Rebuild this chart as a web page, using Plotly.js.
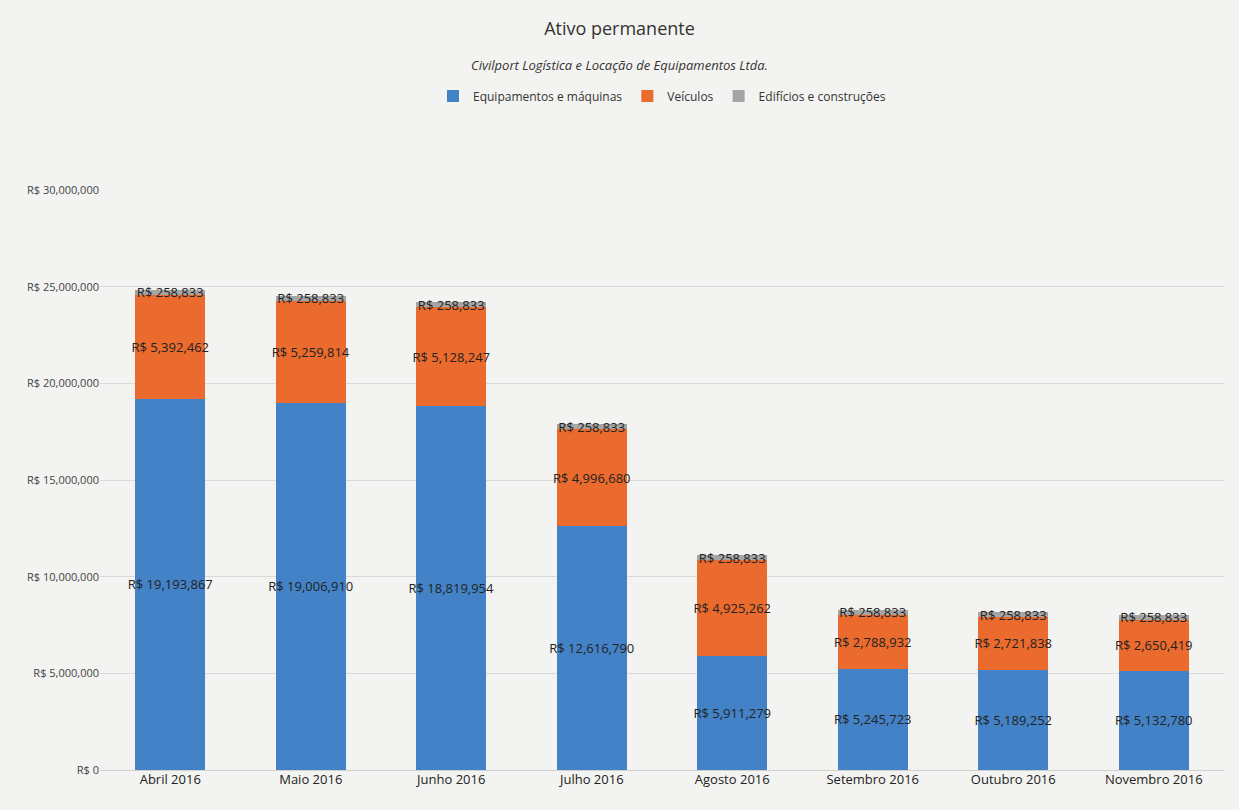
<!DOCTYPE html>
<html>
<head>
<meta charset="utf-8">
<script src="https://cdn.plot.ly/plotly-3.0.1.min.js"></script>
<style>html,body{margin:0;padding:0;background:#f3f3f1;}#chart{width:1239px;height:810px;}</style>
</head>
<body>
<div id="chart"></div>
<script>
const months = ["Abril 2016","Maio 2016","Junho 2016","Julho 2016","Agosto 2016","Setembro 2016","Outubro 2016","Novembro 2016"];
const equipamentos = [19193867,19006910,18819954,12616790,5911279,5245723,5189252,5132780];
const veiculos = [5392462,5259814,5128247,4996680,4925262,2788932,2721838,2650419];
const edificios = [258833,258833,258833,258833,258833,258833,258833,258833];
const yTicks = [0,5000000,10000000,15000000,20000000,25000000,30000000];
const yTickText = ["R$ 0","R$ 5,000,000","R$ 10,000,000","R$ 15,000,000","R$ 20,000,000","R$ 25,000,000","R$ 30,000,000"];

const font = "Open Sans, Noto Sans, sans-serif";
function trace(name, vals, color){
  return {
    type:'bar', name:name, x:months, y:vals,
    marker:{color:color},
    texttemplate:'R$ %{y:,.0f}',
    textposition:'inside', insidetextanchor:'middle', textangle:0,
    constraintext:'none',
    textfont:{color:'#222', size:13, family:font},
    hoverinfo:'skip'
  };
}
const data = [
  trace('Equipamentos e máquinas', equipamentos, '#4382c6'),
  trace('Veículos', veiculos, '#ea6b2d'),
  trace('Edifícios e construções', edificios, '#a5a5a5')
];
const layout = {
  width:1239, height:810,
  paper_bgcolor:'#f3f3f1', plot_bgcolor:'#f3f3f1',
  barmode:'stack', bargap:0.5,
  margin:{l:100, r:15, t:190, b:40},
  title:{text:'Ativo permanente',
         subtitle:{text:'<i>Civilport Logística e Locação de Equipamentos Ltda.</i>', font:{family:font, size:13, color:'#333'}},
         x:0.5, xanchor:'center', y:0.972, yanchor:'top',
         font:{family:font, size:18, color:'#333'}},
  legend:{orientation:'h', x:0.5, xanchor:'center', y:1 - 96/810, yanchor:'middle', yref:'container',
          font:{family:font, size:12, color:'#333'}, traceorder:'normal'},
  xaxis:{tickfont:{family:font, size:13, color:'#222'}, showline:false, ticks:''},
  yaxis:{range:[0,30000000], tickvals:yTicks, ticktext:yTickText,
         gridcolor:'#d9d9d9', zeroline:true, zerolinecolor:'#d0d0d0',
         tickfont:{family:font, size:11, color:'#444'}},
  separators:'.,',
  font:{family:font}
};
Plotly.newPlot('chart', data, layout, {displayModeBar:false, staticPlot:true});
</script>
</body>
</html>
